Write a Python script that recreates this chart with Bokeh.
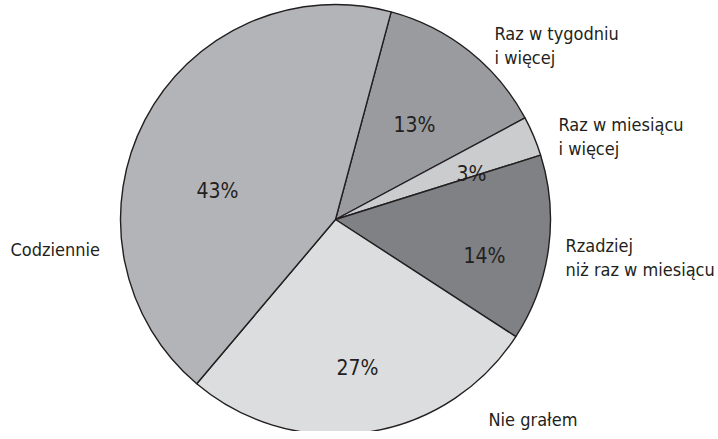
import math
from bokeh.plotting import figure
from bokeh.models import Range1d, ColumnDataSource
from bokeh.core.properties import value
from bokeh.embed import file_html
from bokeh.resources import INLINE

# Data
categories = ["Raz w tygodniu\ni więcej", "Raz w miesiącu\ni więcej",
              "Rzadziej\nniż raz w miesiącu", "Nie grałem", "Codziennie"]
shares = [13, 3, 14, 27, 43]
pct_labels = ["13%", "3%", "14%", "27%", "43%"]
colors = ["#9a9b9f", "#cbccce", "#808185", "#dcdddf", "#b3b4b8"]

FONT = "'DejaVu Sans Condensed', 'Liberation Sans Narrow', Roboto, sans-serif"
TXT = "#231f20"

W, H = 718, 431
p = figure(width=W, height=H, output_backend="svg", toolbar_location=None,
           x_range=Range1d(0, W), y_range=Range1d(0, H), min_border=0)
p.axis.visible = False
p.grid.visible = False
p.outline_line_color = None
p.background_fill_color = "white"
p.border_fill_color = "white"

# picture coords -> data coords helpers
def px(x):
    return x
def py(y):
    return 439 - y

cx, cy = px(335), py(227)
R = 215
offset = 15.0  # degrees clockwise from top where first slice starts

total = float(sum(shares))
starts, ends = [], []
acc = offset
for s in shares:
    a0 = acc
    a1 = acc + 360.0 * s / total
    starts.append(math.radians(90 - a0))
    ends.append(math.radians(90 - a1))
    acc = a1

src = ColumnDataSource(dict(x=[cx] * len(shares), y=[cy] * len(shares),
                            start=starts, end=ends, color=colors))
p.wedge(x="x", y="y", radius=R, start_angle="start", end_angle="end",
        direction="clock", fill_color="color", line_color=TXT,
        line_width=1.4, source=src)

# percent labels (offsets from centre, pixels, baseline)
pct_off = [(79, -95), (136, -46), (149, 36), (22, 148), (-118, -29)]
p.text(x=[cx + d[0] for d in pct_off], y=[cy - d[1] for d in pct_off],
       text=pct_labels, text_font=value(FONT), text_font_size="21px",
       text_color=TXT, text_align="center", text_baseline="alphabetic")

# category labels (anchor: left x, first-line baseline)
cat_pos = [(494, 41), (558, 132), (565, 253), (488, 427), (10, 257)]
line_h = 24
xs, ys, ts = [], [], []
for name, (lx, ly) in zip(categories, cat_pos):
    for i, line in enumerate(name.split("\n")):
        xs.append(px(lx))
        ys.append(py(ly + i * line_h))
        ts.append(line)
p.text(x=xs, y=ys, text=ts, text_font=value(FONT), text_font_size="18px",
       text_color=TXT, text_align="left", text_baseline="alphabetic")

open("out.html", "w").write(file_html(p, INLINE))
